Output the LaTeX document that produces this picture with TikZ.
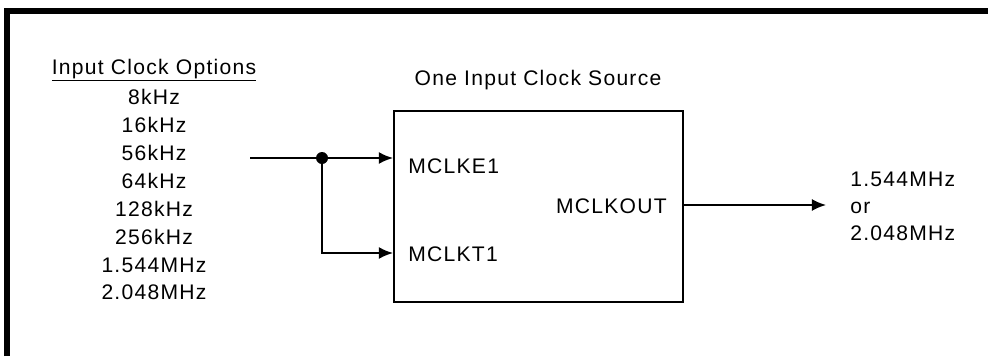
\documentclass[tikz,border=0pt]{standalone}
\usepackage{fontspec}
\usetikzlibrary{arrows.meta}
\newfontfamily\clkfont{Liberation Sans}[LetterSpace=6]

\tikzset{
	lbl/.style={font=\clkfont\fontsize{15}{19.9}\selectfont, inner sep=0pt},
	wire/.style={line width=1.3pt},
	arrow/.style={wire, -{Latex[length=10pt,width=8.5pt]}}
}

\begin{document}
\begin{tikzpicture}[x=0.025cm, y=-0.025cm]
		
		\useasboundingbox (0,0) rectangle (988,356);
		
		%Cornice
		\draw[line width=4.25pt, line join=miter] (7,356) -- (7,11) -- (988,11);
		
		%Opzioni di clock in ingresso
		\node (optionsTitle) at (154,74) [lbl, anchor=base]{\underline{Input Clock Options}};
		\node (optionsList) at (154,194.5) [lbl, align=center]{8kHz\\16kHz\\56kHz\\64kHz\\128kHz\\256kHz\\1.544MHz\\2.048MHz};
		
		%Blocco centrale
		\node (sourceTitle) at (538,85) [lbl, anchor=base]{One Input Clock Source};
		\node (source) at (538.5,206.5) [draw, rectangle, line width=1.4pt, inner sep=0pt, 
		minimum width=7.225cm, minimum height=4.775cm]{};
		\node (mclke) at (408,173) [lbl, anchor=base west]{MCLKE1};
		\node (mclkt) at (408,261) [lbl, anchor=base west]{MCLKT1};
		\node (mclkout) at (667,213) [lbl, anchor=base east]{MCLKOUT};
		
		%Uscita
		\node (outFreq) at (850,206.5) [lbl, anchor=west, align=left, 
		font=\clkfont\fontsize{15}{19.1}\selectfont]{1.544MHz\\or\\2.048MHz};
		
		%Links
		\coordinate (clkIn) at (250,158);
		\coordinate (clkOut) at (826,205);
		\node (junction) at (322,158) [circle, fill, inner sep=0pt, minimum size=0.3cm]{};
		\draw[wire] (clkIn) -- (junction.center);
		\draw[arrow] (junction.center) -- (junction.center -| source.west);
		\draw[arrow] (junction.center) |- (source.west |- 0,253);
		\draw[arrow] (source.east |- clkOut) -- (clkOut);
		
\end{tikzpicture}
\end{document}
